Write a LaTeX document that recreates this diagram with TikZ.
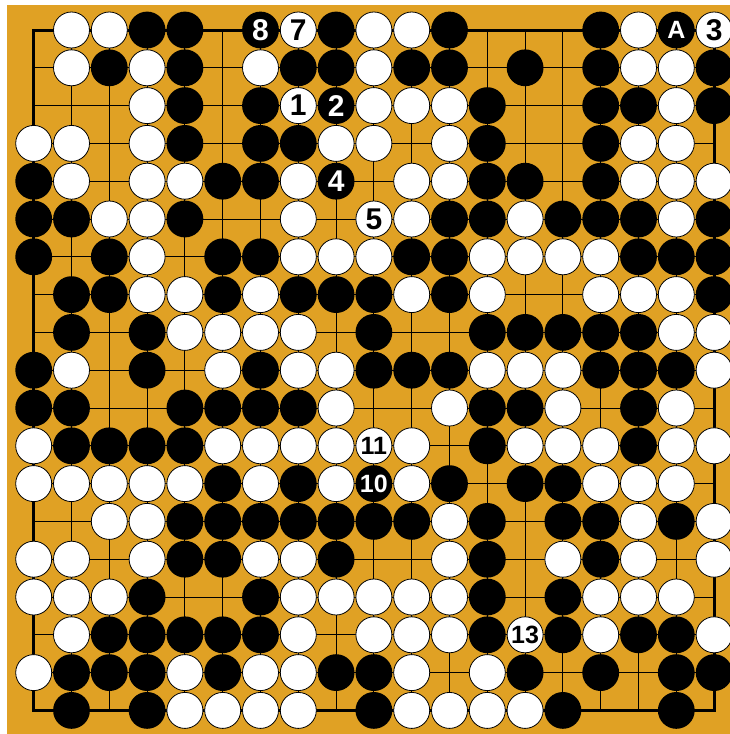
\documentclass[tikz,border=0pt]{standalone}
\usepackage{fontspec}
\setmainfont{Liberation Sans}
\definecolor{board}{RGB}{224,161,36}
\tikzset{
  bst/.style={circle, fill=black, minimum size=36.8pt, inner sep=0pt, text=white, font=\bfseries\fontsize{30}{30}\selectfont},
  wst/.style={circle, draw=black, line width=0.8pt, fill=white, minimum size=36pt, inner sep=0pt, text=black, font=\bfseries\fontsize{30}{30}\selectfont},
  small/.style={font=\bfseries\fontsize{25}{25}\selectfont},
  gline/.style={line width=1pt, black},
  edge/.style={line width=3pt, black}
}
\newcommand{\gx}[1]{33.7+37.8*#1}
\newcommand{\gy}[1]{30+37.8*#1}
\begin{document}
\begin{tikzpicture}[x=1pt,y=-1pt]
\useasboundingbox (0,0) rectangle (730,734);
\fill[board] (7,5) rectangle (730,734);
% grid
\foreach \i in {1,...,17} {
  \draw[gline] ({\gx{\i}},30) -- ({\gx{\i}},710.4);
  \draw[gline] (33.7,{\gy{\i}}) -- (714.1,{\gy{\i}});
}
\draw[edge] (33.7,30) rectangle (714.1,710.4);
% black stones
\foreach \r/\cs in {
 0/{3,4,8,11,15},
 1/{2,4,7,8,10,11,13,15,18},
 2/{4,6,12,15,16,18},
 3/{4,6,7,12,15},
 4/{0,5,6,12,13,15},
 5/{0,1,4,11,12,14,15,16,18},
 6/{0,2,5,6,10,11,16,17,18},
 7/{1,2,5,7,8,9,11,18},
 8/{1,3,9,12,13,14,15,16},
 9/{0,3,6,9,10,11,15,16,17},
 10/{0,1,4,5,6,7,12,13,16},
 11/{1,2,3,4,12,16},
 12/{5,7,11,13,14},
 13/{4,5,6,7,8,9,10,12,14,15,17},
 14/{4,5,8,12,15},
 15/{3,6,12,14},
 16/{2,3,4,5,6,12,14,16,17},
 17/{1,2,3,5,8,9,13,15,17,18},
 18/{1,3,9,14,17}} {
  \foreach \c in \cs {
    \node[bst] (s\c-\r) at ({\gx{\c}},{\gy{\r}}) {};
  }
}
% white stones
\foreach \r/\cs in {
 0/{1,2,9,10,16},
 1/{1,3,6,9,16,17},
 2/{3,9,10,11,17},
 3/{0,1,3,8,9,11,16,17},
 4/{1,3,4,7,10,11,16,17,18},
 5/{2,3,7,10,13,17},
 6/{3,7,8,9,12,13,14,15},
 7/{3,4,6,10,12,15,16,17},
 8/{4,5,6,7,17,18},
 9/{1,5,7,8,12,13,14,18},
 10/{8,11,14,17},
 11/{0,5,6,7,8,10,13,14,15,17,18},
 12/{0,1,2,3,4,6,8,10,15,16,17},
 13/{2,3,11,16,18},
 14/{0,1,3,6,7,11,14,16,18},
 15/{0,1,2,7,8,9,10,11,15,16,17},
 16/{1,7,9,10,11,15,18},
 17/{0,4,6,7,10,12},
 18/{4,5,6,7,10,11,12,13}} {
  \foreach \c in \cs {
    \node[wst] (s\c-\r) at ({\gx{\c}},{\gy{\r}}) {};
  }
}
% labelled stones
\node[bst] (s6-0) at ({\gx{6}},{\gy{0}}) {8};
\node[wst] (s7-0) at ({\gx{7}},{\gy{0}}) {7};
\node[bst,small] (s17-0) at ({\gx{17}},{\gy{0}}) {A};
\node[wst] (s18-0) at ({\gx{18}},{\gy{0}}) {3};
\node[wst] (s7-2) at ({\gx{7}},{\gy{2}}) {1};
\node[bst] (s8-2) at ({\gx{8}},{\gy{2}}) {2};
\node[bst] (s8-4) at ({\gx{8}},{\gy{4}}) {4};
\node[wst] (s9-5) at ({\gx{9}},{\gy{5}}) {5};
\node[wst,small] (s9-11) at ({\gx{9}},{\gy{11}}) {11};
\node[bst,small] (s9-12) at ({\gx{9}},{\gy{12}}) {10};
\node[wst,small] (s13-16) at ({\gx{13}},{\gy{16}}) {13};
\end{tikzpicture}
\end{document}
